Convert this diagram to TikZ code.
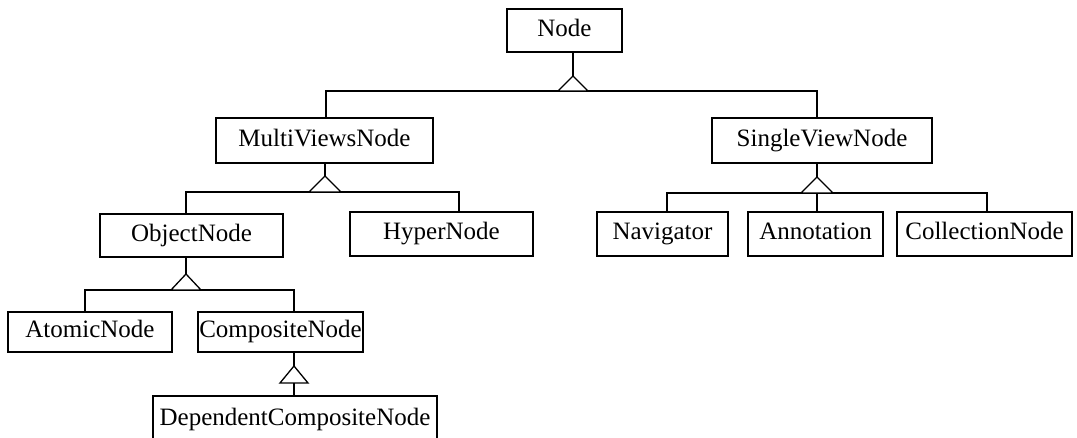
\documentclass[tikz,border=0pt]{standalone}
\usepackage{fontspec}
\setmainfont{Liberation Serif}
\usetikzlibrary{calc}
\begin{document}
\begin{tikzpicture}[x=1pt,y=1pt,
  box/.style={draw, line width=1.3pt, rectangle, inner sep=0pt, text height=17pt, text depth=5.5pt, font=\fontsize{25}{30}\selectfont},
  conn/.style={line width=1.3pt},
  tri/.style={line width=1.3pt, fill=white, line join=miter}]
\useasboundingbox (0,0) rectangle (1077,-438);
\clip (0,0) rectangle (1077,-438);
% nodes
\node[box, minimum width=115, minimum height=43] (node) at (564.5,-30.5) {Node};
\node[box, minimum width=217, minimum height=45] (mvn) at (324.5,-140.5) {MultiViewsNode};
\node[box, minimum width=220, minimum height=45] (svn) at (822,-140.5) {SingleViewNode};
\node[box, minimum width=183, minimum height=43] (obj) at (191.5,-235.5) {ObjectNode};
\node[box, minimum width=183, minimum height=44] (hyp) at (441.5,-234) {HyperNode};
\node[box, minimum width=131, minimum height=44] (nav) at (662.5,-234) {Navigator};
\node[box, minimum width=135, minimum height=44] (ann) at (815.5,-234) {Annotation};
\node[box, minimum width=175, minimum height=44] (col) at (984.5,-234) {CollectionNode};
\node[box, minimum width=164, minimum height=40] (atom) at (90,-332) {AtomicNode};
\node[box, minimum width=165, minimum height=40] (comp) at (280.5,-332) {CompositeNode};
\node[box, minimum width=284, minimum height=48] (dcn) at (295,-420) {DependentCompositeNode};
% apex and bar coordinates
\coordinate (t1) at (573,-76);
\coordinate (l1) at (326,-91);
\coordinate (r1) at (817,-91);
\coordinate (t2) at (325,-176);
\coordinate (l2) at (186,-192);
\coordinate (r2) at (459,-192);
\coordinate (t3) at (817,-177);
\coordinate (l3) at (667,-193);
\coordinate (m3) at (817,-193);
\coordinate (r3) at (987,-193);
\coordinate (t4) at (186,-274);
\coordinate (l4) at (85,-290);
\coordinate (r4) at (294,-290);
\coordinate (t5) at (294,-366);
\coordinate (b5) at (294,-383);
% level 1
\draw[conn] (node.south -| t1) -- (t1);
\draw[conn] (mvn.north -| l1) |- (r1) -- (svn.north -| r1);
\draw[tri] (t1) -- ++(-15,-15) -- ++(30,0) -- cycle;
% MultiViewsNode children
\draw[conn] (mvn.south -| t2) -- (t2);
\draw[conn] (obj.north -| l2) |- (r2) -- (hyp.north -| r2);
\draw[tri] (t2) -- ++(-16,-16) -- ++(32,0) -- cycle;
% SingleViewNode children
\draw[conn] (svn.south -| t3) -- (t3);
\draw[conn] (nav.north -| l3) |- (r3) -- (col.north -| r3);
\draw[conn] (m3) -- (ann.north -| m3);
\draw[tri] (t3) -- ++(-16,-16) -- ++(32,0) -- cycle;
% ObjectNode children
\draw[conn] (obj.south -| t4) -- (t4);
\draw[conn] (atom.north -| l4) |- (r4) -- (comp.north -| r4);
\draw[tri] (t4) -- ++(-15,-16) -- ++(30,0) -- cycle;
% CompositeNode child
\draw[conn] (comp.south -| t5) -- (t5);
\draw[conn] (b5) -- (dcn.north -| b5);
\draw[tri] (t5) -- ++(-14,-17) -- ++(28,0) -- cycle;
\end{tikzpicture}
\end{document}
